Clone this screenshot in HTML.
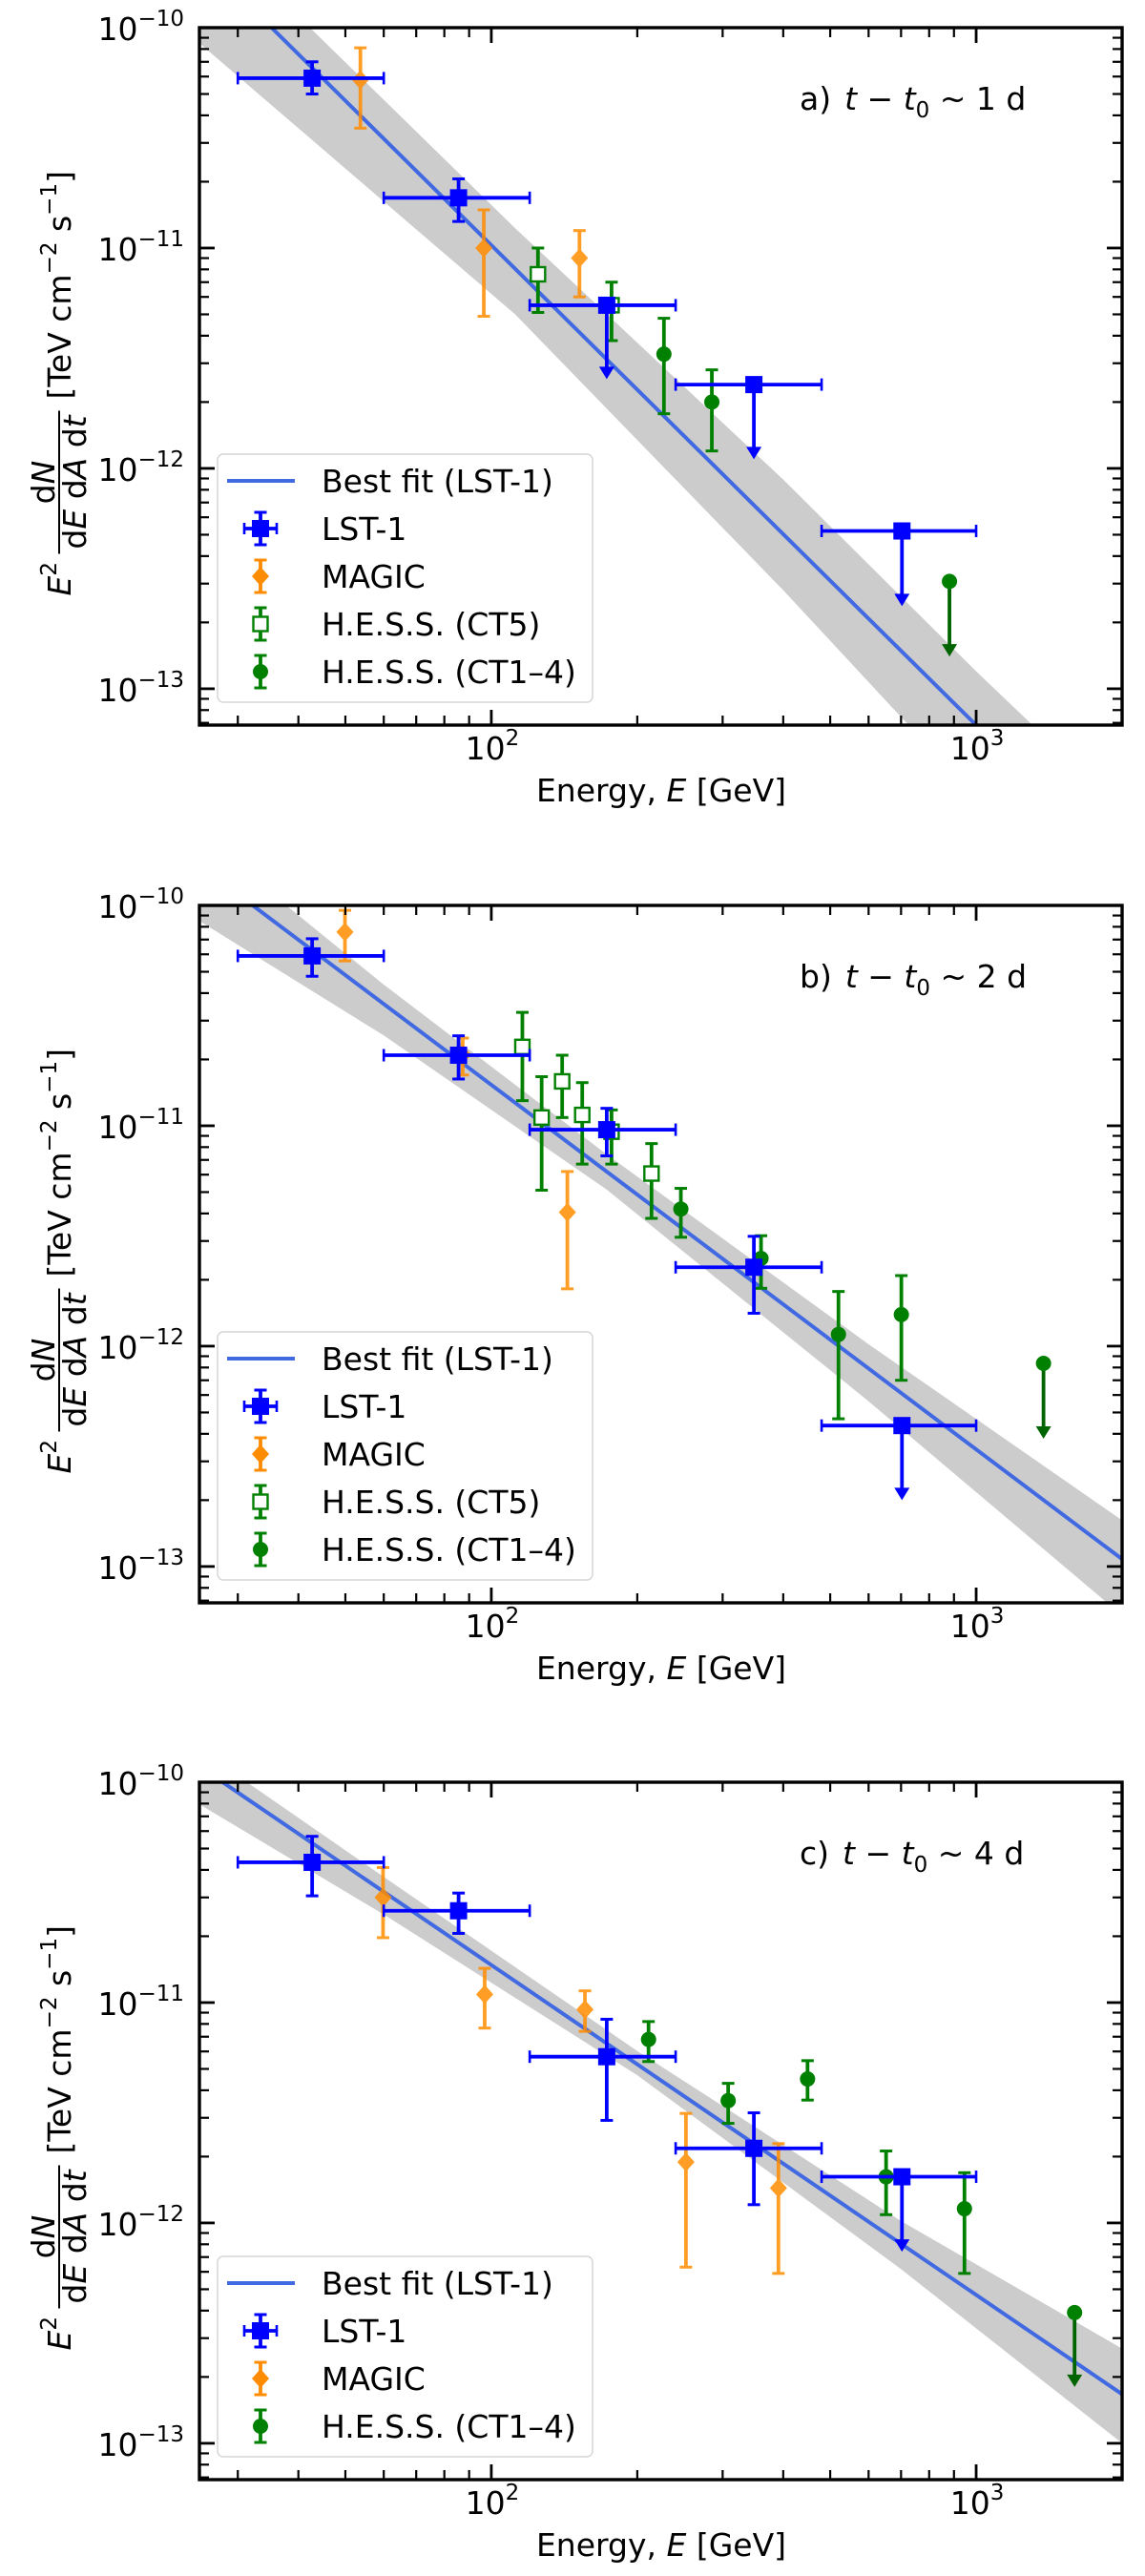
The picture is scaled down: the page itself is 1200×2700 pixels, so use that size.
<!DOCTYPE html>
<html><head><meta charset="utf-8"><style>
html,body{margin:0;padding:0;background:#fff;}
svg{display:block;font-family:"DejaVu Sans","Liberation Sans",sans-serif;}
</style></head><body>
<svg id="fig" xmlns="http://www.w3.org/2000/svg" width="1200" height="2700" viewBox="0 0 1200 2700"></svg>
<script>
// ---------- Panel a data ----------
const aLstE=[42.7,85.6,173,348,703];
const aLstF=[5.9e-11,1.69e-11,5.5e-12,2.4e-12,5.2e-13];
const aLstHi=[7.0e-11,2.06e-11,null,null,null];
const aLstLo=[5.0e-11,1.32e-11,2.54e-12,1.1e-12,2.37e-13];
const aLstUL=[0,0,1,1,1];
const aLstBinLo=[30,60,120,240,480];
const aLstBinHi=[60,120,240,480,1000];
const aMagE=[53.7,96.5,152];
const aMagF=[5.8e-11,1.0e-11,9.0e-12];
const aMagHi=[8.1e-11,1.49e-11,1.2e-11];
const aMagLo=[3.5e-11,4.9e-12,6.0e-12];
const aCt5E=[124.8,177];
const aCt5F=[7.6e-12,5.5e-12];
const aCt5Hi=[1.0e-11,7.0e-12];
const aCt5Lo=[5.1e-12,3.8e-12];
const aCt14E=[227,285,881];
const aCt14F=[3.3e-12,2.0e-12,3.07e-13];
const aCt14Hi=[4.8e-12,2.8e-12,null];
const aCt14Lo=[1.77e-12,1.2e-12,1.4e-13];
const aCt14UL=[0,0,1];
const aFitE=[25,2000];
const aFitF=[2.11e-10,1.51e-14];
const aBandE=[25,112,400,1000,2000];
const aBandUp=[3.09e-10,1.23e-11,8.9e-13,1.2e-13,2.8e-14];
const aBandLo=[8.5e-11,5.0e-12,2.8e-13,3.2e-14,6.3e-15];
// ---------- Panel b data ----------
const bLstE=[42.7,85.6,173,348,703];
const bLstF=[5.9e-11,2.09e-11,9.6e-12,2.28e-12,4.36e-13];
const bLstHi=[7.06e-11,2.56e-11,1.2e-11,3.15e-12,null];
const bLstLo=[4.77e-11,1.63e-11,7.3e-12,1.41e-12,2.0e-13];
const bLstUL=[0,0,0,0,1];
const bLstBinLo=[30,60,120,240,480];
const bLstBinHi=[60,120,240,480,1000];
const bMagE=[49.9,87.3,143.5];
const bMagF=[7.57e-11,2.1e-11,4.05e-12];
const bMagHi=[9.5e-11,2.5e-11,6.2e-12];
const bMagLo=[5.6e-11,1.7e-11,1.82e-12];
const bCt5E=[115.9,127,140,154,177,214];
const bCt5F=[2.28e-11,1.09e-11,1.59e-11,1.12e-11,9.4e-12,6.07e-12];
const bCt5Hi=[3.27e-11,1.67e-11,2.09e-11,1.57e-11,1.18e-11,8.3e-12];
const bCt5Lo=[1.3e-11,5.1e-12,1.09e-11,6.7e-12,6.7e-12,3.8e-12];
const bCt14E=[246,360,520,701,1377];
const bCt14F=[4.19e-12,2.5e-12,1.13e-12,1.39e-12,8.35e-13];
const bCt14Hi=[5.2e-12,3.17e-12,1.77e-12,2.09e-12,null];
const bCt14Lo=[3.12e-12,1.83e-12,4.68e-13,7.0e-13,3.8e-13];
const bCt14UL=[0,0,0,0,1];
const bFitE=[25,2000];
const bFitF=[1.52e-10,1.08e-13];
const bBandE=[25,60,173,600,2000];
const bBandUp=[2.09e-10,4.37e-11,7.41e-12,1.02e-12,1.62e-13];
const bBandLo=[8.5e-11,2.57e-11,5.13e-12,5.62e-13,6.0e-14];
// ---------- Panel c data ----------
const cLstE=[42.7,85.6,173,348,703];
const cLstF=[4.33e-11,2.61e-11,5.68e-12,2.18e-12,1.62e-12];
const cLstHi=[5.68e-11,3.14e-11,8.4e-12,3.16e-12,null];
const cLstLo=[3.05e-11,2.06e-11,2.92e-12,1.21e-12,7.4e-13];
const cLstUL=[0,0,0,0,1];
const cLstBinLo=[30,60,120,240,480];
const cLstBinHi=[60,120,240,480,1000];
const cMagE=[59.8,96.9,156,252,391];
const cMagF=[3.0e-11,1.09e-11,9.3e-12,1.89e-12,1.44e-12];
const cMagHi=[4.1e-11,1.43e-11,1.13e-11,3.14e-12,2.29e-12];
const cMagLo=[1.97e-11,7.66e-12,7.4e-12,6.3e-13,5.9e-13];
const cCt14E=[211,308,449,652,946,1596];
const cCt14F=[6.8e-12,3.59e-12,4.5e-12,1.62e-12,1.16e-12,3.92e-13];
const cCt14Hi=[8.2e-12,4.3e-12,5.45e-12,2.12e-12,1.69e-12,null];
const cCt14Lo=[5.4e-12,2.83e-12,3.61e-12,1.09e-12,5.9e-13,1.8e-13];
const cCt14UL=[0,0,0,0,0,1];
const cFitE=[25,2000];
const cFitF=[1.18e-10,1.67e-13];
const cBandE=[25,60,200,700,2000];
const cBandUp=[1.41e-10,3.72e-11,6.03e-12,1.02e-12,2.69e-13];
const cBandLo=[7.94e-11,2.51e-11,4.68e-12,6.17e-13,1.0e-13];
// ---------- axis config ----------
const xTickVals=[100,1000];
const xTickExp=["2","3"];
const yTickVals=[1e-10,1e-11,1e-12,1e-13];
const yTickExp=["\u221210","\u221211","\u221212","\u221213"];
const panelLabels=["a)","b)","c)"];
const panelDays=["1","2","4"];

const NS="http://www.w3.org/2000/svg";
const svg=document.getElementById('fig');
const L=209,R=1176,H=731,XMIN=25,XMAX=2000,YTOP=-10,YDEC=3.165;
const FS=33,SS=23;
const BLUE="#0000ff",ORANGE="#ff8c00",GREEN="#008000",FITC="#4169e1";
function X(E){return L+(Math.log10(E)-Math.log10(XMIN))/(Math.log10(XMAX)-Math.log10(XMIN))*(R-L);}
function mkY(top){return F=>top+(YTOP-Math.log10(F))/YDEC*H;}
function el(tag,attrs,parent){const e=document.createElementNS(NS,tag);for(const k in attrs)e.setAttribute(k,attrs[k]);(parent||svg).appendChild(e);return e;}

function errbar(g,x,y1,y2,col,cap){
  el('line',{x1:x,y1:y1,x2:x,y2:y2,stroke:col,'stroke-width':3.8},g);
  if(cap){el('line',{x1:x-6.5,y1:y1,x2:x+6.5,y2:y1,stroke:col,'stroke-width':3},g);
  el('line',{x1:x-6.5,y1:y2,x2:x+6.5,y2:y2,stroke:col,'stroke-width':3},g);}
}
function arrow(g,x,y1,y2,col){
  el('line',{x1:x,y1:y1,x2:x,y2:y2-8,stroke:col,'stroke-width':3.8},g);
  el('path',{d:`M${x-8},${y2-13} L${x+8},${y2-13} L${x},${y2} Z`,fill:col},g);
}
function marker(g,type,x,y,col){
  if(type==='sq')return el('rect',{x:x-9,y:y-9,width:18,height:18,fill:col},g);
  if(type==='osq')return el('rect',{x:x-7.5,y:y-7.5,width:15,height:15,fill:'#fff',stroke:col,'stroke-width':2.4},g);
  if(type==='dia')return el('path',{d:`M${x},${y-10} L${x+9},${y} L${x},${y+10} L${x-9},${y} Z`,fill:col},g);
  if(type==='circ')return el('circle',{cx:x,cy:y,r:8,fill:col},g);
}

function drawPanel(idx,top,d){
  const Y=mkY(top);
  const g=el('g',{});
  
  
  const cid='clip'+idx;
  const cp=el('clipPath',{id:cid},g);el('rect',{x:L,y:top,width:R-L,height:H},cp);
  const pg=el('g',{'clip-path':`url(#${cid})`},g);
  let pts=[];
  for(let i=0;i<d.bandE.length;i++)pts.push(X(d.bandE[i])+','+Y(d.bandUp[i]));
  for(let i=d.bandE.length-1;i>=0;i--)pts.push(X(d.bandE[i])+','+Y(d.bandLo[i]));
  const band=el('polygon',{points:pts.join(' '),fill:'#cccccc'},pg);
  
  
  const fit=el('line',{x1:X(d.fitE[0]),y1:Y(d.fitF[0]),x2:X(d.fitE[1]),y2:Y(d.fitF[1]),stroke:FITC,'stroke-width':4},pg);
  
  
  const gm=el('g',{opacity:0.85},pg);
  
  
  d.magE.forEach((E,i)=>{const x=X(E);errbar(gm,x,Y(d.magHi[i]),Y(d.magLo[i]),ORANGE,true);const m=marker(gm,'dia',x,Y(d.magF[i]),ORANGE);
    
    });
  if(d.ct5E){const gc=el('g',{},pg);
    
    
    d.ct5E.forEach((E,i)=>{const x=X(E);errbar(gc,x,Y(d.ct5Hi[i]),Y(d.ct5Lo[i]),GREEN,true);const m=marker(gc,'osq',x,Y(d.ct5F[i]),GREEN);
      
      });}
  const gh=el('g',{},pg);
  
  
  d.ct14E.forEach((E,i)=>{const x=X(E),y=Y(d.ct14F[i]);
    if(d.ct14UL[i])arrow(gh,x,y,Y(d.ct14Lo[i]),'#006400');else errbar(gh,x,Y(d.ct14Hi[i]),Y(d.ct14Lo[i]),GREEN,true);
    const m=marker(gh,'circ',x,y,GREEN);
    
    });
  const gl=el('g',{},pg);
  
  
  d.lstE.forEach((E,i)=>{const x=X(E),y=Y(d.lstF[i]);
    const x1=X(d.lstBinLo[i]),x2=X(d.lstBinHi[i]);
    el('line',{x1:x1,y1:y,x2:x2,y2:y,stroke:BLUE,'stroke-width':3.8},gl);
    el('line',{x1:x1,y1:y-6.5,x2:x1,y2:y+6.5,stroke:BLUE,'stroke-width':2.6},gl);
    el('line',{x1:x2,y1:y-6.5,x2:x2,y2:y+6.5,stroke:BLUE,'stroke-width':2.6},gl);
    if(d.lstUL[i])arrow(gl,x,y,Y(d.lstLo[i]),BLUE);else errbar(gl,x,Y(d.lstHi[i]),Y(d.lstLo[i]),BLUE,true);
    const m=marker(gl,'sq',x,y,BLUE);
    
    });
  const tg=el('g',{stroke:'#000'},g);
  for(let dec=1;dec<=3;dec++)for(let k=1;k<=9;k++){const E=k*Math.pow(10,dec);if(E<XMIN||E>XMAX)continue;const x=X(E),len=k===1?16:10,w=k===1?2.8:2.2;
    el('line',{x1:x,y1:top+H,x2:x,y2:top+H-len,'stroke-width':w},tg);el('line',{x1:x,y1:top,x2:x,y2:top+len,'stroke-width':w},tg);}
  for(let dec=-14;dec<=-10;dec++)for(let k=1;k<=9;k++){const F=k*Math.pow(10,dec);const y=Y(F);if(y<top-0.5||y>top+H)continue;const len=k===1?16:10,w=k===1?2.8:2.2;
    el('line',{x1:L,y1:y,x2:L+len,y2:y,'stroke-width':w},tg);el('line',{x1:R,y1:y,x2:R-len,y2:y,'stroke-width':w},tg);}
  const frame=el('rect',{x:L,y:top,width:R-L,height:H,fill:'none',stroke:'#000','stroke-width':3.4},g);
  
  
  yTickVals.forEach((v,i)=>{const y=Y(v);const t=el('text',{x:193,y:y+13,'text-anchor':'end','font-size':FS},g);
    
    
    const a=el('tspan',{},t);a.textContent='10';const b=el('tspan',{dy:-15,'font-size':SS},t);b.textContent=yTickExp[i];});
  xTickVals.forEach((v,i)=>{const x=X(v);const t=el('text',{x:x+1,y:top+H+36,'text-anchor':'middle','font-size':FS},g);
    
    
    const a=el('tspan',{},t);a.textContent='10';const b=el('tspan',{dy:-15,'font-size':SS},t);b.textContent=xTickExp[i];});
  const xt=el('text',{x:693,y:top+H+80,'text-anchor':'middle','font-size':FS},g);
  
  
  xt.innerHTML='Energy, <tspan font-style="italic">E</tspan> [GeV]';
  const yg=el('g',{transform:`translate(0,${top+365.5}) rotate(-90)`},g);
  
  
  const e2=el('text',{x:-230,y:74,'font-size':FS},yg);e2.innerHTML='<tspan font-style="italic">E</tspan><tspan dy="-15" font-size="'+SS+'">2</tspan>';
  const num=el('text',{x:-111,y:57,'font-size':FS,'text-anchor':'middle'},yg);num.innerHTML='d<tspan font-style="italic">N</tspan>';
  el('line',{x1:-186,y1:62,x2:-36,y2:62,stroke:'#000','stroke-width':2},yg);
  const den=el('text',{x:-111,y:90,'font-size':FS,'text-anchor':'middle'},yg);den.innerHTML='d<tspan font-style="italic">E</tspan> d<tspan font-style="italic">A</tspan> d<tspan font-style="italic">t</tspan>';
  const br=el('text',{x:-24,y:74,'font-size':FS},yg);br.innerHTML='[TeV cm<tspan dy="-15" font-size="'+SS+'">\u22122</tspan><tspan dy="15"> s</tspan><tspan dy="-15" font-size="'+SS+'">\u22121</tspan><tspan dy="15">]</tspan>';
  const pl=el('text',{x:838,y:top+86,'font-size':FS},g);
  
  
  pl.innerHTML=panelLabels[idx]+'<tspan dx="14" font-style="italic">t</tspan> \u2212 <tspan font-style="italic">t</tspan><tspan dy="8" font-size="'+SS+'">0</tspan><tspan dy="-8"> ~ '+panelDays[idx]+' d</tspan>';
  const entries=[['line','Best fit (LST-1)'],['lst','LST-1'],['mag','MAGIC']];
  if(d.ct5E)entries.push(['ct5','H.E.S.S. (CT5)']);
  entries.push(['ct14','H.E.S.S. (CT1\u20134)']);
  const n=entries.length,lh=50,lbot=top+707,ltop=lbot-(n*lh+10);
  const lg=el('g',{},g);
  
  
  el('rect',{x:228,y:ltop,width:393,height:lbot-ltop,rx:6,fill:'#fff','fill-opacity':0.85,stroke:'#d6d6d6','stroke-width':1.5},lg);
  entries.forEach((en,i)=>{const cy=ltop+28+i*lh;const hx=273;
    const eg=el('g',{},lg);
    
    
    if(en[0]==='line')el('line',{x1:238,y1:cy,x2:309,y2:cy,stroke:FITC,'stroke-width':4},eg);
    if(en[0]==='lst'){el('line',{x1:256,y1:cy,x2:290,y2:cy,stroke:BLUE,'stroke-width':3.8},eg);
      el('line',{x1:256,y1:cy-6,x2:256,y2:cy+6,stroke:BLUE,'stroke-width':2.6},eg);el('line',{x1:290,y1:cy-6,x2:290,y2:cy+6,stroke:BLUE,'stroke-width':2.6},eg);
      errbar(eg,hx,cy-17,cy+17,BLUE,true);marker(eg,'sq',hx,cy,BLUE);}
    if(en[0]==='mag'){errbar(eg,hx,cy-17,cy+17,ORANGE,true);marker(eg,'dia',hx,cy,ORANGE);}
    if(en[0]==='ct5'){errbar(eg,hx,cy-17,cy+17,GREEN,true);marker(eg,'osq',hx,cy,GREEN);}
    if(en[0]==='ct14'){errbar(eg,hx,cy-17,cy+17,GREEN,true);marker(eg,'circ',hx,cy,GREEN);}
    const t=el('text',{x:337,y:cy+12,'font-size':FS},eg);t.textContent=en[1];});
}
drawPanel(0,29,{lstE:aLstE,lstF:aLstF,lstHi:aLstHi,lstLo:aLstLo,lstUL:aLstUL,lstBinLo:aLstBinLo,lstBinHi:aLstBinHi,
  magE:aMagE,magF:aMagF,magHi:aMagHi,magLo:aMagLo,ct5E:aCt5E,ct5F:aCt5F,ct5Hi:aCt5Hi,ct5Lo:aCt5Lo,
  ct14E:aCt14E,ct14F:aCt14F,ct14Hi:aCt14Hi,ct14Lo:aCt14Lo,ct14UL:aCt14UL,fitE:aFitE,fitF:aFitF,bandE:aBandE,bandUp:aBandUp,bandLo:aBandLo});
drawPanel(1,949,{lstE:bLstE,lstF:bLstF,lstHi:bLstHi,lstLo:bLstLo,lstUL:bLstUL,lstBinLo:bLstBinLo,lstBinHi:bLstBinHi,
  magE:bMagE,magF:bMagF,magHi:bMagHi,magLo:bMagLo,ct5E:bCt5E,ct5F:bCt5F,ct5Hi:bCt5Hi,ct5Lo:bCt5Lo,
  ct14E:bCt14E,ct14F:bCt14F,ct14Hi:bCt14Hi,ct14Lo:bCt14Lo,ct14UL:bCt14UL,fitE:bFitE,fitF:bFitF,bandE:bBandE,bandUp:bBandUp,bandLo:bBandLo});
drawPanel(2,1868,{lstE:cLstE,lstF:cLstF,lstHi:cLstHi,lstLo:cLstLo,lstUL:cLstUL,lstBinLo:cLstBinLo,lstBinHi:cLstBinHi,
  magE:cMagE,magF:cMagF,magHi:cMagHi,magLo:cMagLo,
  ct14E:cCt14E,ct14F:cCt14F,ct14Hi:cCt14Hi,ct14Lo:cCt14Lo,ct14UL:cCt14UL,fitE:cFitE,fitF:cFitF,bandE:cBandE,bandUp:cBandUp,bandLo:cBandLo});
</script>
</body></html>
